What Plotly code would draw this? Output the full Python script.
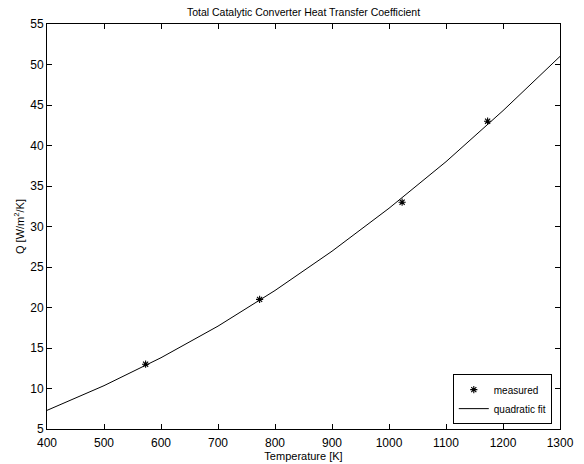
import plotly.graph_objects as go

meas_T = [573, 773, 1023, 1173]
meas_Q = [13, 21, 33, 43]
fit_T = [400, 500, 600, 700, 800, 900, 1000, 1100, 1200, 1300]
fit_Q = [7.3, 10.35, 13.8, 17.7, 22.1, 26.95, 32.25, 38.0, 44.3, 51.0]
x_ticks = list(range(400, 1301, 100))
y_ticks = list(range(5, 56, 5))

fig = go.Figure()
fig.add_trace(go.Scatter(x=meas_T, y=meas_Q, mode="markers", name="measured",
                         marker=dict(symbol="asterisk-open", size=6, color="black",
                                     line=dict(color="black", width=1.1))))
fig.add_trace(go.Scatter(x=fit_T, y=fit_Q, mode="lines", name="quadratic fit",
                         line=dict(color="black", width=1)))

font = "Liberation Sans, Arial, Helvetica, sans-serif"
axis_common = dict(showline=True, linecolor="black", linewidth=1, mirror="ticks",
                   ticks="inside", ticklen=5, tickcolor="black", showgrid=False,
                   zeroline=False, automargin=False,
                   tickfont=dict(size=12, color="black", family=font))
fig.update_layout(
    width=584, height=464,
    margin=dict(l=47, r=24, t=24, b=35),
    paper_bgcolor="white", plot_bgcolor="white",
    font=dict(family=font, color="black", size=11),
    title=dict(text="Total Catalytic Converter Heat Transfer Coefficient",
               x=0.5, xref="paper", xanchor="center", y=0.974, yanchor="middle",
               font=dict(size=10.5, family=font)),
    xaxis=dict(range=[400, 1300], tickvals=x_ticks, ticklabelstandoff=3,
               title=dict(text="Temperature [K]", standoff=1, font=dict(size=11)),
               **axis_common),
    yaxis=dict(range=[5, 55], tickvals=y_ticks,
               title=dict(text="Q [W/m<sup>2</sup>/K]", standoff=3, font=dict(size=11)),
               **axis_common),
    legend=dict(x=0.984, y=0.012, xanchor="right", yanchor="bottom",
                bordercolor="black", borderwidth=1, bgcolor="white",
                font=dict(size=10, family=font), tracegroupgap=0,
                itemwidth=30),
    showlegend=True,
)
fig.write_html("out.html")
